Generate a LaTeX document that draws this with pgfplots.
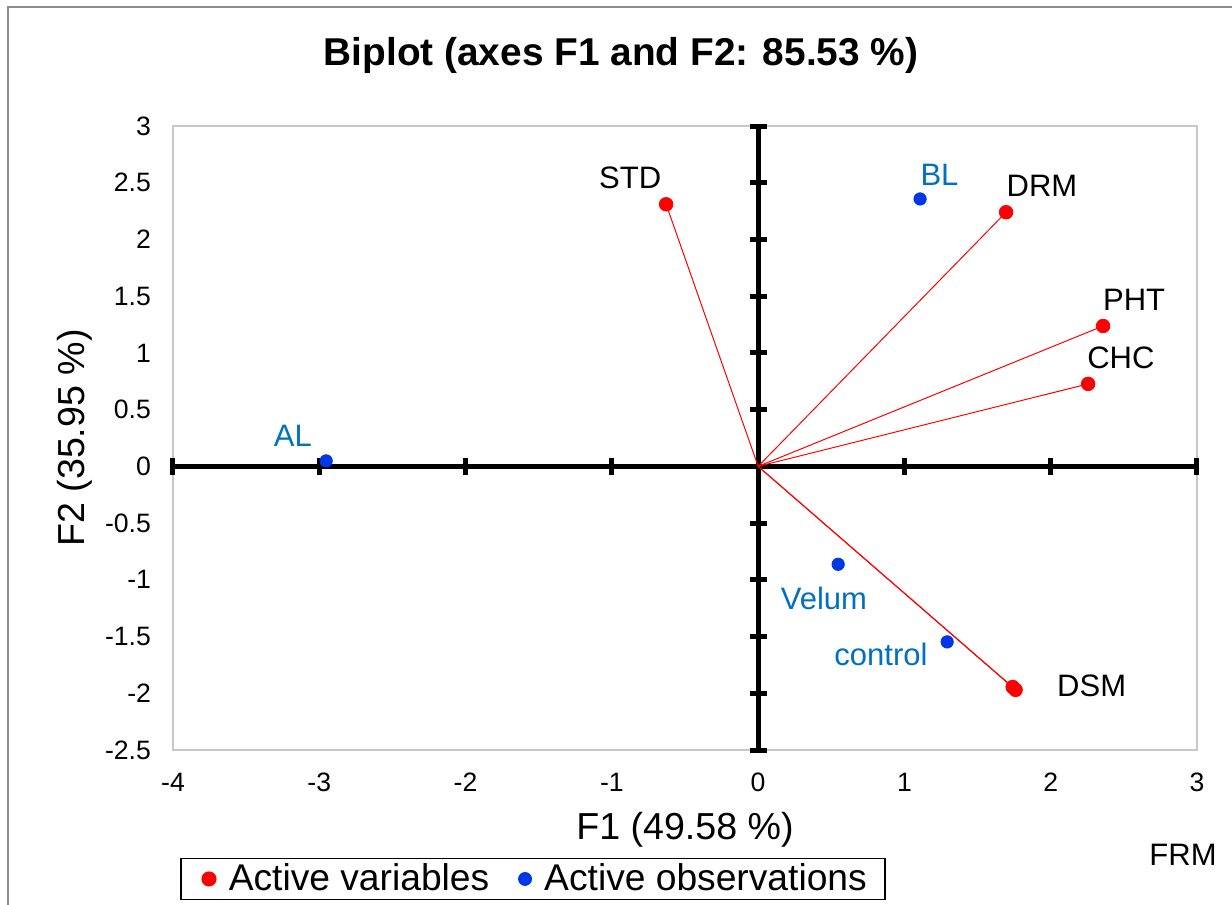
\documentclass[border=0pt]{standalone}
\usepackage{fontspec}
\setmainfont{Liberation Sans}
\usepackage{pgfplots}
\usepackage{pgfplotstable}
\pgfplotsset{compat=1.18}
\definecolor{vred}{RGB}{255,0,0}
\definecolor{oblue}{RGB}{0,56,230}
\definecolor{lblue}{RGB}{0,112,192}
\definecolor{framegray}{RGB}{200,200,200}
\definecolor{outergray}{RGB}{140,140,140}
\pgfplotstableread{
x y
-0.629 2.310
1.695 2.240
2.358 1.237
2.256 0.727
1.760 -1.970
1.740 -1.945
}\vars
\pgfplotstableread{
x y
1.107 2.357
-2.953 0.048
0.547 -0.863
1.292 -1.547
}\obs
\begin{document}
\begin{tikzpicture}
\useasboundingbox (0pt,0pt) rectangle (616pt,452.5pt);
\draw[outergray, line width=1pt] (4pt,449pt) rectangle (700pt,-50pt);
\node[font=\fontsize{19.4}{23}\selectfont\bfseries] at (310.5pt,425pt) {Biplot (axes F1 and F2: 85.53 \%)};
\node[font=\fontsize{15.5}{18}\selectfont] at (591.5pt,25pt) {FRM};
\begin{axis}[
  at={(86.5pt,77.5pt)}, anchor=south west,
  scale only axis, width=512pt, height=312pt,
  xmin=-4, xmax=3, ymin=-2.5, ymax=3,
  xtick={-4,-3,-2,-1,0,1,2,3},
  ytick={-2.5,-2,-1.5,-1,-0.5,0,0.5,1,1.5,2,2.5,3},
  major tick length=0pt,
  axis line style={framegray, line width=1pt},
  clip=false,
  /pgf/number format/assume math mode=true,
  tick label style={font=\fontsize{13.3}{16}\selectfont},
  yticklabel style={xshift=-7.5pt},
  xticklabel style={yshift=-8pt},
  xlabel={F1 (49.58 \%)},
  ylabel={F2 (35.95 \%)},
  label style={font=\fontsize{18.8}{22}\selectfont},
  xlabel style={at={(axis description cs:0.5,-0.128)}, anchor=center},
  ylabel style={at={(axis description cs:-0.0957,0.5)}, anchor=center, rotate=0},
  legend columns=2,
  legend image code/.code={\path (-4.5pt,0pt); \draw[#1] plot coordinates {(0pt,0pt)};},
  legend style={at={(axis description cs:0.3516,-0.2067)}, anchor=center,
    draw=black, line width=0.75pt, font=\fontsize{18.6}{22}\selectfont,
    inner xsep=9pt, inner ysep=2.75pt, nodes={inner sep=0pt},
    column sep=6.5pt,
    /tikz/every even column/.append style={column sep=13pt}},
]
% central axes
\draw[black, line width=2.5pt] (axis cs:-4,0) -- (axis cs:3,0);
\draw[black, line width=2.5pt] (axis cs:0,-2.5) -- (axis cs:0,3);
\pgfplotsinvokeforeach{-4,-3,-2,-1,1,2,3}{
  \draw[black, line width=2.5pt] (axis cs:#1,0) ++(0pt,-4.2pt) -- ++(0pt,8.4pt);
}
\pgfplotsinvokeforeach{-2.5,-2,-1.5,-1,-0.5,0.5,1,1.5,2,2.5,3}{
  \draw[black, line width=2.5pt] (axis cs:0,#1) ++(-4.2pt,0pt) -- ++(8.4pt,0pt);
}
% vectors
\addplot[vred, line width=0.5pt, forget plot] coordinates {(0,0) (-0.629,2.310)};
\addplot[vred, line width=0.5pt, forget plot] coordinates {(0,0) (1.695,2.240)};
\addplot[vred, line width=0.5pt, forget plot] coordinates {(0,0) (2.358,1.237)};
\addplot[vred, line width=0.5pt, forget plot] coordinates {(0,0) (2.256,0.727)};
\addplot[vred, line width=0.5pt, forget plot] coordinates {(0,0) (1.760,-1.970)};
\addplot[vred, line width=0.5pt, forget plot] coordinates {(0,0) (1.740,-1.945)};
% points
\addplot[only marks, mark=*, mark size=3.4pt, vred, mark options={draw=vred, fill=vred}] table[x=x,y=y] {\vars};
\addlegendentry{Active variables}
\addplot[only marks, mark=*, mark size=3.1pt, oblue, mark options={draw=oblue, fill=oblue}] table[x=x,y=y] {\obs};
\addlegendentry{Active observations}
% labels
\begin{scope}[every node/.style={font=\fontsize{15.5}{18}\selectfont, anchor=center}]
\node at (axis cs:-0.875,2.54) {STD};
\node at (axis cs:1.94,2.47) {DRM};
\node at (axis cs:2.57,1.47) {PHT};
\node at (axis cs:2.48,0.96) {CHC};
\node at (axis cs:2.28,-1.93) {DSM};
\node[text=lblue] at (axis cs:1.24,2.57) {BL};
\node[text=lblue] at (axis cs:-3.18,0.27) {AL};
\node[text=lblue] at (axis cs:0.45,-1.16) {Velum};
\node[text=lblue] at (axis cs:0.84,-1.66) {control};
\end{scope}
\end{axis}
\end{tikzpicture}
\end{document}
